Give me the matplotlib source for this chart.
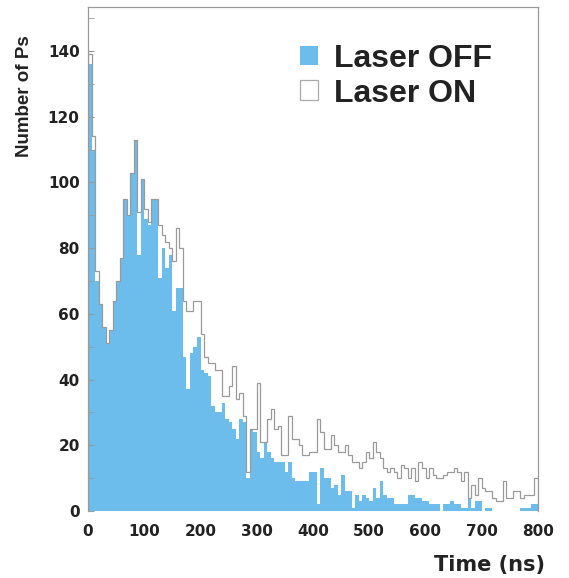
import matplotlib
matplotlib.use("Agg")
from matplotlib import pyplot as plt
from matplotlib.patches import Patch
from matplotlib.ticker import MultipleLocator
import numpy as np

# bin width in ns
bin_w = 6.25

# Laser OFF counts per bin
laser_off = [136, 110, 70, 63, 56, 51, 55, 64, 70, 77,
             95, 90, 103, 113, 78, 101, 89, 87, 95, 95,
             71, 80, 74, 78, 61, 68, 68, 47, 37, 48,
             50, 53, 43, 42, 41, 32, 30, 30, 33, 28,
             27, 25, 22, 28, 27, 10, 25, 24, 18, 16,
             21, 18, 16, 15, 15, 15, 12, 15, 10, 9,
             9, 9, 9, 12, 12, 2, 13, 10, 10, 7,
             8, 5, 11, 6, 6, 1, 5, 3, 5, 4,
             3, 7, 4, 9, 5, 4, 4, 2, 2, 2,
             2, 5, 5, 4, 4, 3, 3, 2, 2, 2,
             0, 2, 2, 3, 2, 2, 1, 1, 4, 1,
             3, 3, 0, 1, 1, 0, 0, 0, 0, 0,
             0, 0, 0, 1, 1, 1, 2, 2]

# Laser ON counts per bin
laser_on = [139, 114, 73, 63, 56, 51, 55, 64, 70, 77,
            95, 90, 103, 113, 91, 101, 92, 88, 95, 95,
            87, 84, 82, 80, 76, 86, 80, 64, 61, 61,
            64, 64, 54, 47, 45, 45, 43, 43, 35, 35,
            38, 44, 34, 36, 29, 12, 25, 25, 39, 21,
            21, 28, 31, 25, 26, 17, 17, 29, 22, 22,
            20, 17, 17, 18, 18, 28, 24, 19, 19, 23,
            20, 18, 18, 20, 17, 15, 15, 13, 15, 18,
            16, 21, 18, 16, 13, 12, 13, 12, 10, 14,
            13, 10, 13, 9, 15, 13, 10, 13, 11, 10,
            10, 11, 12, 12, 13, 12, 9, 12, 4, 8,
            5, 10, 7, 6, 6, 4, 3, 3, 9, 4,
            4, 6, 6, 4, 5, 5, 5, 10]

x_ticks = [0, 100, 200, 300, 400, 500, 600, 700, 800]
y_ticks = [0, 20, 40, 60, 80, 100, 120, 140]

blue = "#6cbcec"
gray = "#9a9a9a"

edges = np.arange(len(laser_off) + 1) * bin_w

fig = plt.figure(figsize=(5.69, 5.78), dpi=100)
ax = fig.add_axes([88 / 569, 1 - 511 / 578, 450 / 569, 504 / 578])

# 先画 OFF 的填充，再画 ON 的轮廓
ax.stairs(laser_off, edges, fill=True, color=blue, baseline=0)
ax.stairs(laser_on, edges, color=gray, linewidth=0.9, baseline=0)

ax.set_xlim(0, 800)
ax.set_ylim(0, 153.4)

ax.set_xticks(x_ticks)
ax.set_yticks(y_ticks)
ax.yaxis.set_minor_locator(MultipleLocator(10))
ax.tick_params(axis="x", length=0, pad=9)
ax.tick_params(axis="y", which="both", direction="in", length=4, color=gray, pad=6)
for lab in ax.get_xticklabels() + ax.get_yticklabels():
    lab.set_fontsize(11)
    lab.set_fontweight("bold")
    lab.set_color("#222222")

for s in ["left", "top", "right"]:
    ax.spines[s].set_color(gray)
    ax.spines[s].set_linewidth(0.9)
ax.spines["bottom"].set_visible(False)

# 图例
handles = [Patch(facecolor=blue, edgecolor="none"),
           Patch(facecolor="white", edgecolor="#aaaaaa", linewidth=0.9)]
leg = ax.legend(handles, ["Laser OFF", "Laser ON"], loc="upper left",
                bbox_to_anchor=(0.471, 0.927), frameon=False,
                prop={"family": ["Liberation Sans", "DejaVu Sans"], "weight": "bold", "size": 23},
                handlelength=0.57, handleheight=0.57, handletextpad=0.5,
                labelspacing=0.15, borderaxespad=0, borderpad=0)
for t in leg.get_texts():
    t.set_color("#222222")

fig.text(25 / 569, 1 - 96 / 578, "Number of Ps", rotation=90, ha="center", va="center",
         family=["Liberation Sans Narrow", "Liberation Sans", "DejaVu Sans"],
         fontweight="bold", fontsize=13.5, color="#222222")
fig.text(545 / 569, 1 - 565 / 578, "Time (ns)", ha="right", va="center",
         fontweight="bold", fontsize=15, color="#222222")

fig.savefig("out.png", dpi=100)
